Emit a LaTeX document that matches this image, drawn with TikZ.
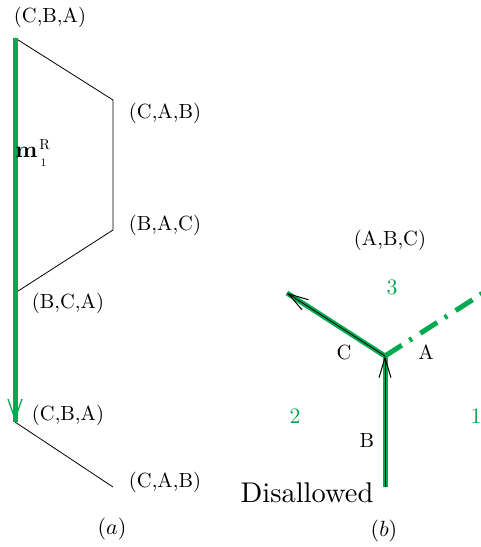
\documentclass[tikz,border=0pt]{standalone}
\usetikzlibrary{arrows.meta}
\definecolor{mgreen}{RGB}{0,170,80}
\begin{document}
\begin{tikzpicture}[x=1pt,y=-1pt,
  lbl/.style={scale=2.05, inner sep=0pt},
  num/.style={scale=2.2, text=mgreen, inner sep=0pt},
  thinblack/.style={line width=0.8pt, black},
  greenthick/.style={line width=5pt, mgreen},
  barb/.style={-{Straight Barb[length=20pt,width=12pt,line width=1pt]}}
]
\useasboundingbox (0,0) rectangle (480,547);
% ---------- panel (a)
\coordinate (a1) at (15,38);
\coordinate (a2) at (113,100);
\coordinate (a3) at (113,230);
\coordinate (a4) at (15,293);
\coordinate (a5) at (15,422);
\coordinate (a6) at (113,487);
\coordinate (a5l) at (8,399);
\coordinate (a5r) at (22,399);
\coordinate (a5t) at (15,419);
\draw[thinblack] (a1) -- (a2) -- (a3) -- (a4);
\draw[thinblack] (a5) -- (a6);
\draw[greenthick] (a1) -- (a5);
\draw[mgreen, line width=1.3pt] (a5l) -- (a5t) -- (a5r);
\node[lbl] (t1) at (50,17) {(C,B,A)};
\node[lbl] (t2) at (165,113) {(C,A,B)};
\node[lbl] (t3) at (165,225) {(B,A,C)};
\node[lbl] (t4) at (68,303) {(B,C,A)};
\node[lbl] (t5) at (68,415) {(C,B,A)};
\node[lbl] (t6) at (165,482) {(C,A,B)};
\node[scale=2.3, inner sep=0pt, anchor=base west] (m) at (15,157.5) {$\mathbf{m}$};
\node[scale=1.45, inner sep=0pt, anchor=base west] (mR) at (39,149) {R};
\node[scale=1.15, inner sep=0pt, anchor=base west] (m1) at (40.5,166.5) {1};
\node[scale=2.2, inner sep=0pt] (pa) at (112,529) {$(a)$};
% ---------- panel (b)
\coordinate (v) at (385,356);
\coordinate (ul) at (287,293);
\coordinate (bt) at (385,487);
\coordinate (ur) at (485,291.7);
\draw[greenthick] (ul) -- (v);
\draw[greenthick] (v) -- (bt);
\draw[greenthick, dash pattern=on 20pt off 9pt on 3pt off 10pt] (v) -- (ur);
\draw[thinblack, barb] (v) -- (ul);
\draw[thinblack, barb] (bt) -- (v);
\node[lbl] (abc) at (390,240) {(A,B,C)};
\node[num] (n3) at (392,287) {3};
\node[num] (n2) at (295,416) {2};
\node[num] (n1) at (476,416) {1};
\node[lbl] (lc) at (344,352) {C};
\node[lbl] (la) at (426,352) {A};
\node[lbl] (lb) at (367,440) {B};
\node[scale=2.85, inner sep=0pt] (dis) at (307,493) {Disallowed};
\node[scale=2.2, inner sep=0pt] (pb) at (384,531) {$(b)$};
\end{tikzpicture}
\end{document}
